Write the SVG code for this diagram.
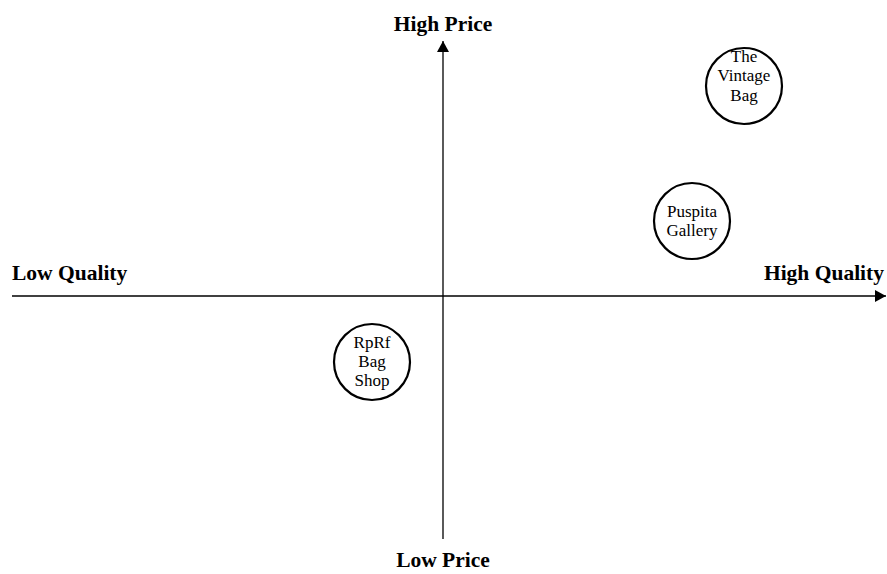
<svg xmlns="http://www.w3.org/2000/svg" width="887" height="574" viewBox="0 0 887 574">
<style>
.ax{stroke:#000;stroke-width:1.3;fill:none}
.lbl{font-family:"Liberation Serif","Times New Roman",serif;font-weight:bold;font-size:21.5px;fill:#000}
.nd circle{fill:#fff;stroke:#000;stroke-width:2.2}
.nd text{font-family:"Liberation Serif","Times New Roman",serif;font-size:17px;fill:#000;text-anchor:middle}
</style>
<defs>
<marker id="ah" markerWidth="12" markerHeight="12" refX="11" refY="6" orient="auto" markerUnits="userSpaceOnUse">
<path d="M0,0 L11,6 L0,12 Z" fill="#000"/>
</marker>
</defs>
<g id="connectors">
<line class="ax" x1="12" y1="296" x2="886" y2="296" marker-end="url(#ah)"/>
<line class="ax" x1="443" y1="539" x2="443" y2="41" marker-end="url(#ah)"/>
</g>
<text class="lbl" x="443" y="31" text-anchor="middle">High Price</text>
<text class="lbl" x="443" y="567" text-anchor="middle">Low Price</text>
<text class="lbl" x="12" y="280">Low Quality</text>
<text class="lbl" x="884" y="280" text-anchor="end">High Quality</text>
<g id="vintage" class="nd">
<circle cx="744" cy="86" r="38"/>
<text x="744" y="62">The</text>
<text x="744" y="81">Vintage</text>
<text x="744" y="101">Bag</text>
</g>
<g id="puspita" class="nd">
<circle cx="692" cy="221" r="38"/>
<text x="692" y="217">Puspita</text>
<text x="692" y="236">Gallery</text>
</g>
<g id="rprf" class="nd">
<circle cx="372" cy="362" r="38"/>
<text x="372" y="348">RpRf</text>
<text x="372" y="367">Bag</text>
<text x="372" y="386">Shop</text>
</g>
</svg>
